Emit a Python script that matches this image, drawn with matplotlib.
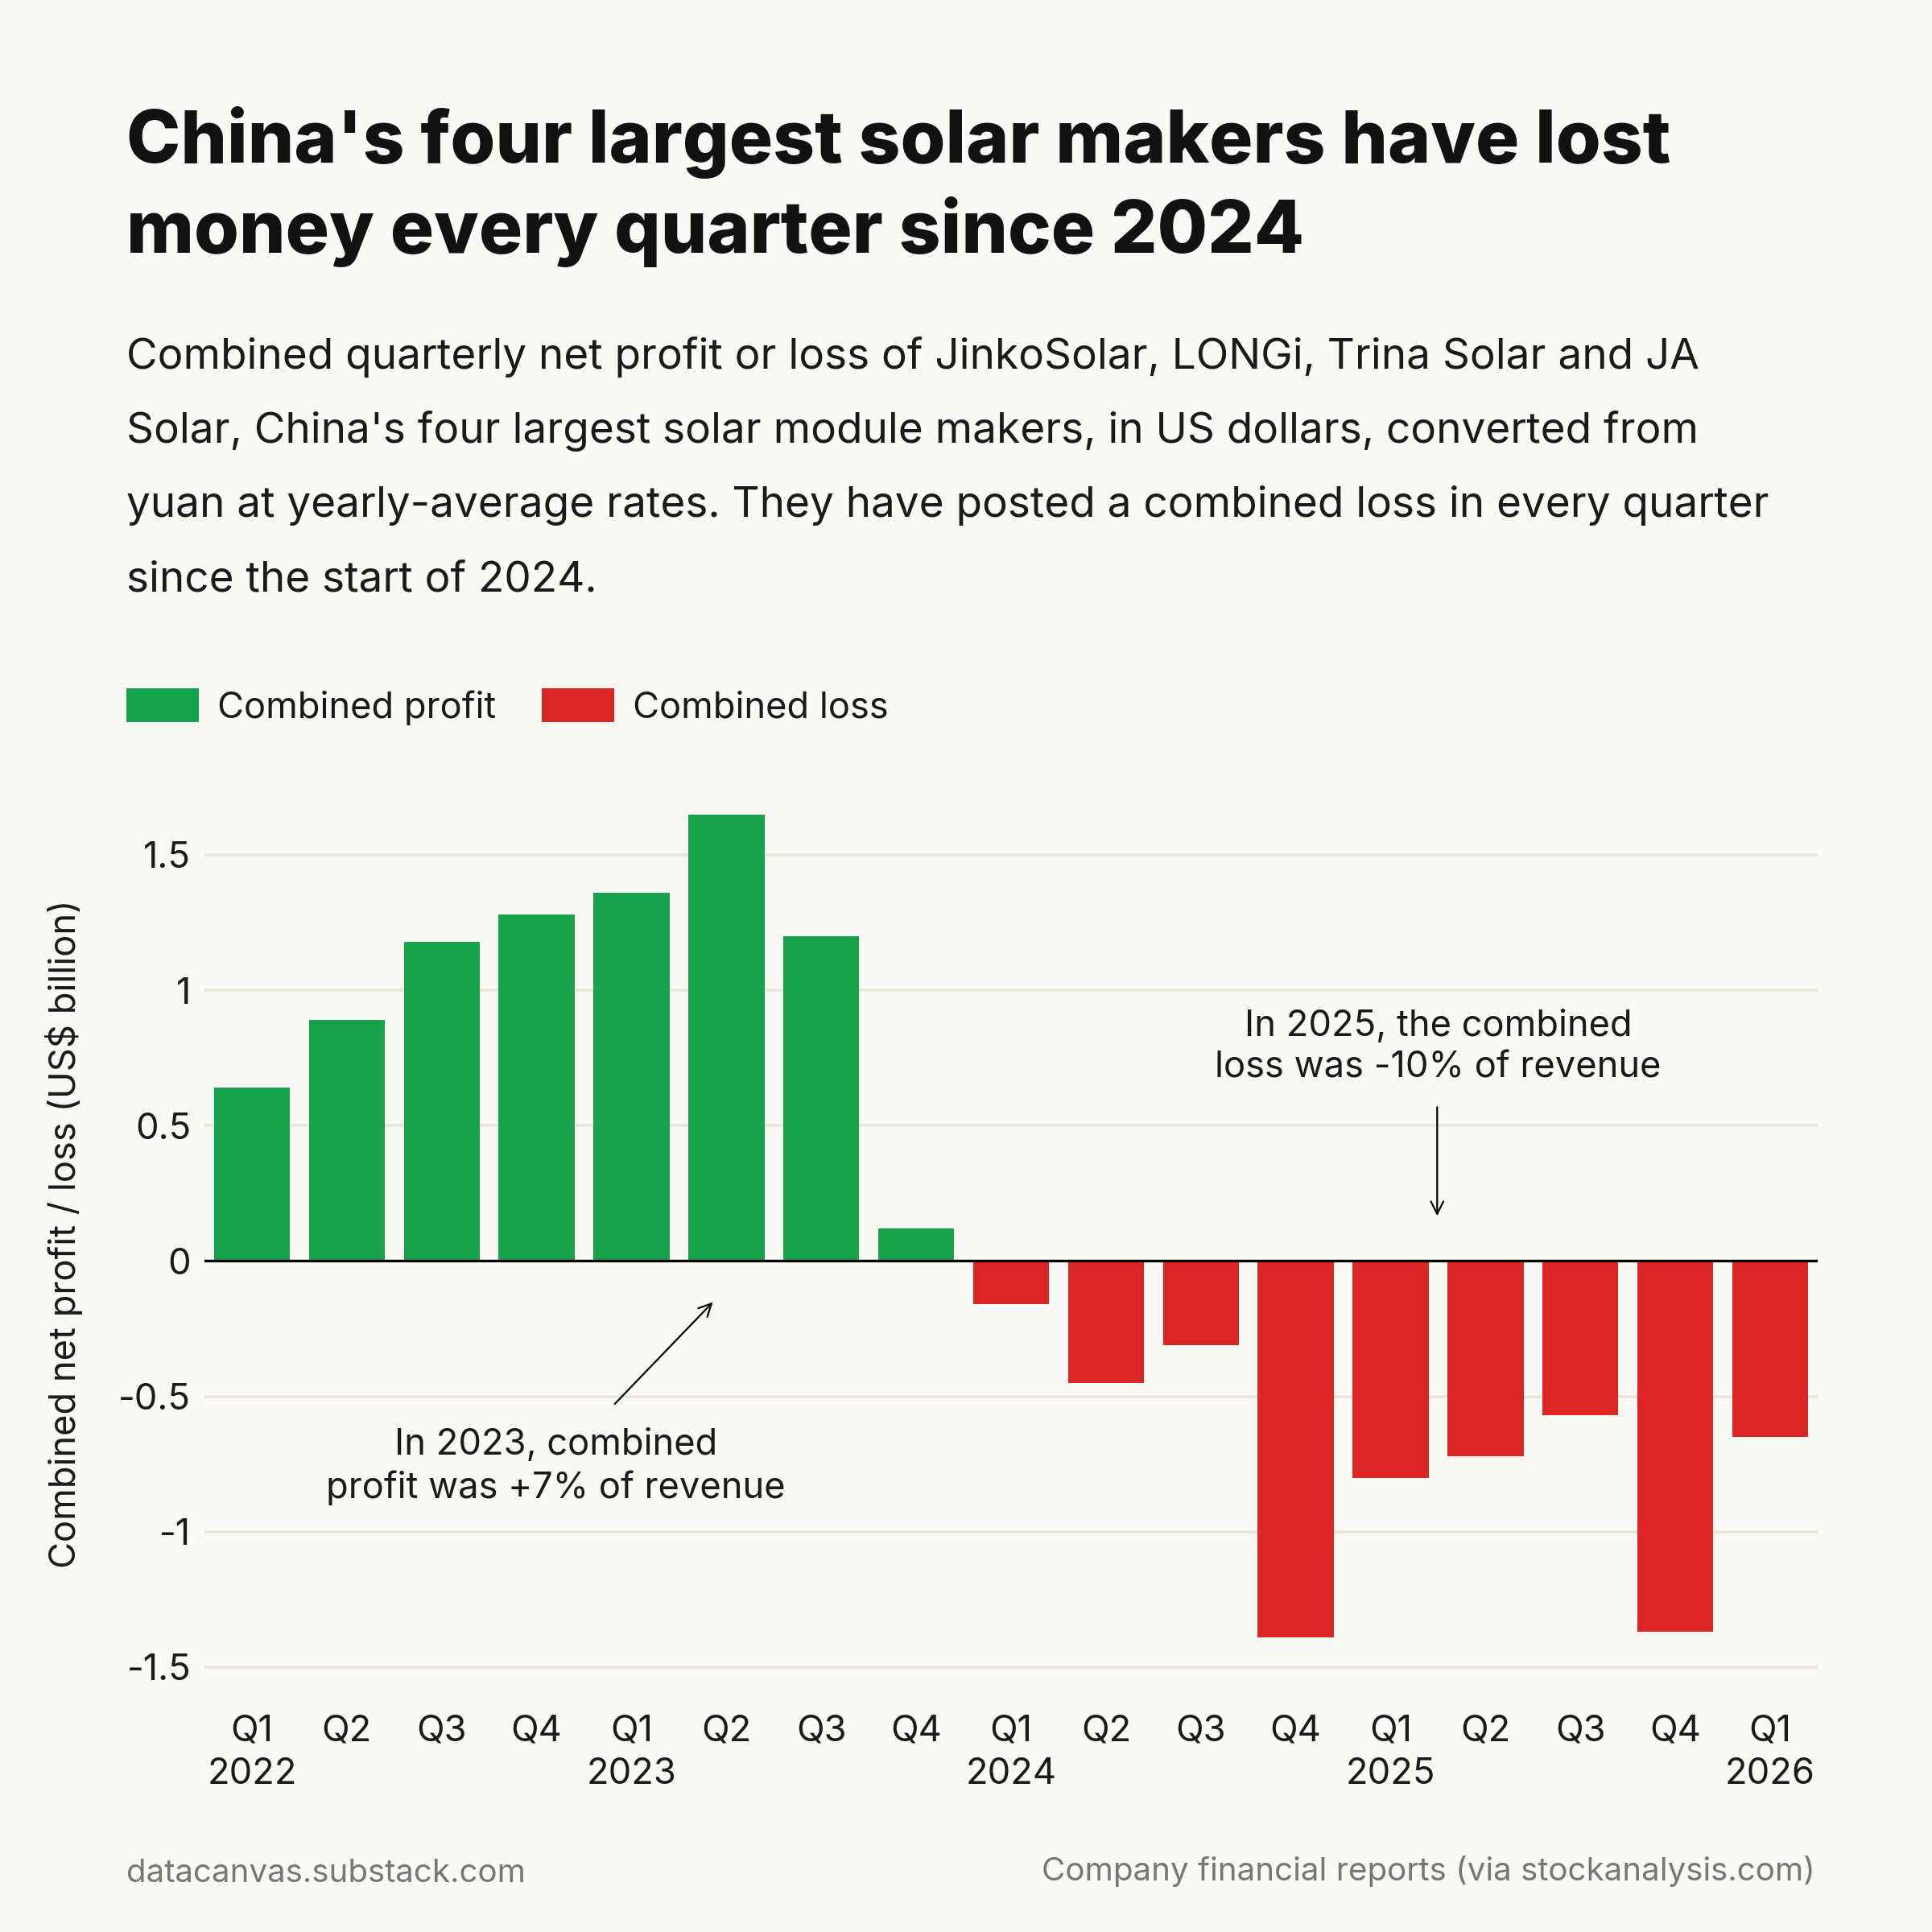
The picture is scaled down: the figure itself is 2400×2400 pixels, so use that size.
import matplotlib
matplotlib.use("Agg")
import matplotlib.pyplot as plt
from matplotlib.patches import Rectangle

# ---- data ----
quarters = ["Q1", "Q2", "Q3", "Q4", "Q1", "Q2", "Q3", "Q4", "Q1",
            "Q2", "Q3", "Q4", "Q1", "Q2", "Q3", "Q4", "Q1"]
years = ["2022", "", "", "", "2023", "", "", "", "2024",
         "", "", "", "2025", "", "", "", "2026"]
values = [0.64, 0.89, 1.18, 1.28, 1.36, 1.65, 1.20, 0.12,
          -0.16, -0.45, -0.31, -1.39, -0.80, -0.72, -0.57, -1.37, -0.65]
yticks = [-1.5, -1, -0.5, 0, 0.5, 1, 1.5]
ytick_labels = ["-1.5", "-1", "-0.5", "0", "0.5", "1", "1.5"]

title_lines = ["China's four largest solar makers have lost",
               "money every quarter since 2024"]
subtitle_lines = [
    "Combined quarterly net profit or loss of JinkoSolar, LONGi, Trina Solar and JA",
    "Solar, China's four largest solar module makers, in US dollars, converted from",
    "yuan at yearly-average rates. They have posted a combined loss in every quarter",
    "since the start of 2024.",
]
legend_labels = ["Combined profit", "Combined loss"]
note_2023 = "In 2023, combined\nprofit was +7% of revenue"
note_2025 = "In 2025, the combined\nloss was -10% of revenue"
ylabel = "Combined net profit / loss (US$ billion)"
source_left = "datacanvas.substack.com"
source_right = "Company financial reports (via stockanalysis.com)"

# ---- style ----
BG = "#faf9f5"
GREEN = "#18a34a"
RED = "#dc2626"
GRID = "#e8e5db"
TEXT = "#1a1a1a"
GRAY = "#777777"
W = 2400.0
BODY_W = "normal"

plt.rcParams["font.family"] = ["Inter", "DejaVu Sans"]

fig = plt.figure(figsize=(12, 12), dpi=200, facecolor=BG)

def fy(px):
    return 1 - px / W

def fx(px):
    return px / W

# title
for line, base in zip(title_lines, [202, 314]):
    fig.text(fx(157), fy(base), line, fontsize=32.6, fontweight="heavy",
             color="#111111", va="baseline", ha="left")

# subtitle
for line, base in zip(subtitle_lines, [458, 550, 642, 734]):
    fig.text(fx(157), fy(base), line, fontsize=19.1, color=TEXT,
             fontweight=BODY_W, va="baseline", ha="left")

# legend
for (x0, x1, tx), lab, col in zip([(157, 247, 270), (673, 763, 786)],
                                  legend_labels, [GREEN, RED]):
    fig.patches.append(Rectangle((fx(x0), fy(897)), fx(x1) - fx(x0),
                                 fy(855) - fy(897), transform=fig.transFigure,
                                 facecolor=col, edgecolor="none"))
    fig.text(fx(tx), fy(892), lab, fontsize=16.3, color=TEXT,
             fontweight=BODY_W, va="baseline", ha="left")

# axes
ax_left, ax_right = 254, 2258
ax_top, ax_bot = 988, 2104.6
ax = fig.add_axes([fx(ax_left), fy(ax_bot), fx(ax_right) - fx(ax_left),
                   (ax_bot - ax_top) / W])
ax.set_facecolor(BG)

x = list(range(len(values)))
colors = [GREEN if v >= 0 else RED for v in values]
ax.bar(x, values, width=0.8, color=colors, zorder=2)

ax.set_xlim(-0.5, len(values) - 0.5)
ax.set_ylim(-1.6, 1.72)
ax.set_yticks(yticks)
ax.set_yticklabels(ytick_labels, fontweight=BODY_W)
for t in yticks:
    if t != 0:
        ax.axhline(t, color=GRID, lw=1.3, zorder=1)
ax.axhline(0, color="black", lw=1.2, zorder=3)

ax.set_xticks(x)
ax.set_xticklabels([q + ("\n" + y if y else "") for q, y in zip(quarters, years)],
                   linespacing=1.35, fontweight=BODY_W)
ax.tick_params(axis="x", length=0, pad=9, labelsize=16.3, labelcolor=TEXT)
ax.tick_params(axis="y", length=0, pad=6, labelsize=16.3, labelcolor=TEXT)
for s in ax.spines.values():
    s.set_visible(False)

fig.text(fx(80), fy(1533), ylabel, rotation=90, fontsize=16.3, color=TEXT,
         fontweight=BODY_W, ha="center", va="center")

# annotations
ax.annotate("", xy=(4.89, -0.14), xytext=(3.79, -0.54),
            arrowprops=dict(arrowstyle="->", color="black", lw=0.8,
                            mutation_scale=14), zorder=4)
ax.text(3.2, -0.76, note_2023, fontsize=16.3, color=TEXT, ha="center",
        fontweight=BODY_W, va="center", linespacing=1.3)
ax.annotate("", xy=(12.49, 0.15), xytext=(12.49, 0.585),
            arrowprops=dict(arrowstyle="->", color="black", lw=0.8,
                            mutation_scale=14), zorder=4)
ax.text(12.5, 0.79, note_2025, fontsize=16.3, color=TEXT, ha="center",
        fontweight=BODY_W, va="center", linespacing=1.3)

# footer
fig.text(fx(157), fy(2338), source_left, fontsize=14.5, color=GRAY,
         fontweight=BODY_W, ha="left", va="baseline")
fig.text(fx(2255), fy(2336), source_right, fontsize=14.5, color=GRAY,
         fontweight=BODY_W, ha="right", va="baseline")

fig.savefig("out.png", dpi=200, facecolor=BG)
